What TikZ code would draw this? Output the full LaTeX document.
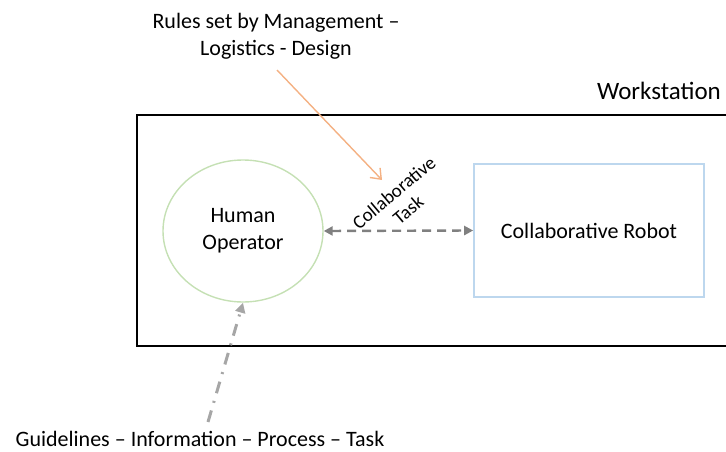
\documentclass[tikz,border=0pt]{standalone}
\usepackage{fontspec}
\setmainfont{Carlito}
\usetikzlibrary{arrows.meta,shapes.geometric}
\definecolor{robotblue}{HTML}{BDD7EE}
\definecolor{operatorgreen}{HTML}{C5E0B4}
\definecolor{ruleorange}{HTML}{F4B183}
\definecolor{taskgrey}{HTML}{808080}
\definecolor{guidegrey}{HTML}{A6A6A6}
\begin{document}
\begin{tikzpicture}[x=1pt,y=-1pt,
  label/.style={font=\fontsize{22}{27}\selectfont,align=center,inner sep=0pt},
  small/.style={font=\fontsize{19}{22}\selectfont,align=center,inner sep=0pt}]
\useasboundingbox (0,0) rectangle (726,452);
\begin{scope}
\clip (0,0) rectangle (726,452);
% workstation frame, running off the right side
\draw[line width=1.4pt] (137,115) rectangle (760,346);
\end{scope}
\node[font=\fontsize{25}{30}\selectfont,inner sep=0pt,anchor=east] (ws) at (721,91) {Workstation};
% operator and robot
\node[ellipse,draw=operatorgreen,line width=1.4pt,minimum width=160pt,minimum height=142pt,
      label,inner sep=0pt] (op) at (243,231) {Human\\Operator};
\node[draw=robotblue,line width=1.6pt,minimum width=230pt,minimum height=133pt,label]
      (rob) at (589,230.5) {Collaborative Robot};
% collaborative task link
\draw[taskgrey,line width=2.4pt,dash pattern=on 9pt off 6pt,
      {Triangle[length=9pt,width=9pt]}-{Triangle[length=9pt,width=9pt]}]
      (op.east) -- (rob.west);
\node[small,rotate=40] (task) at (401,201) {Collaborative\\Task};
% rules from management
\node[label] (rules) at (276,36) {Rules set by Management –\\Logistics - Design};
\coordinate (rulestart) at (277,70);
\coordinate (rulend) at (382,180);
\draw[ruleorange,line width=1.4pt,-{Straight Barb[length=9pt,width=14pt]}] (rulestart) -- (rulend);
% guidelines to the operator
\node[label] (guide) at (200,439) {Guidelines – Information – Process – Task};
\coordinate (guidestart) at (208,422);
\draw[guidegrey,line width=3pt,dash pattern=on 12pt off 8pt on 2pt off 8pt,
      -{Triangle[length=10pt,width=10pt]}] (guidestart) -- (op.south);
\end{tikzpicture}
\end{document}
